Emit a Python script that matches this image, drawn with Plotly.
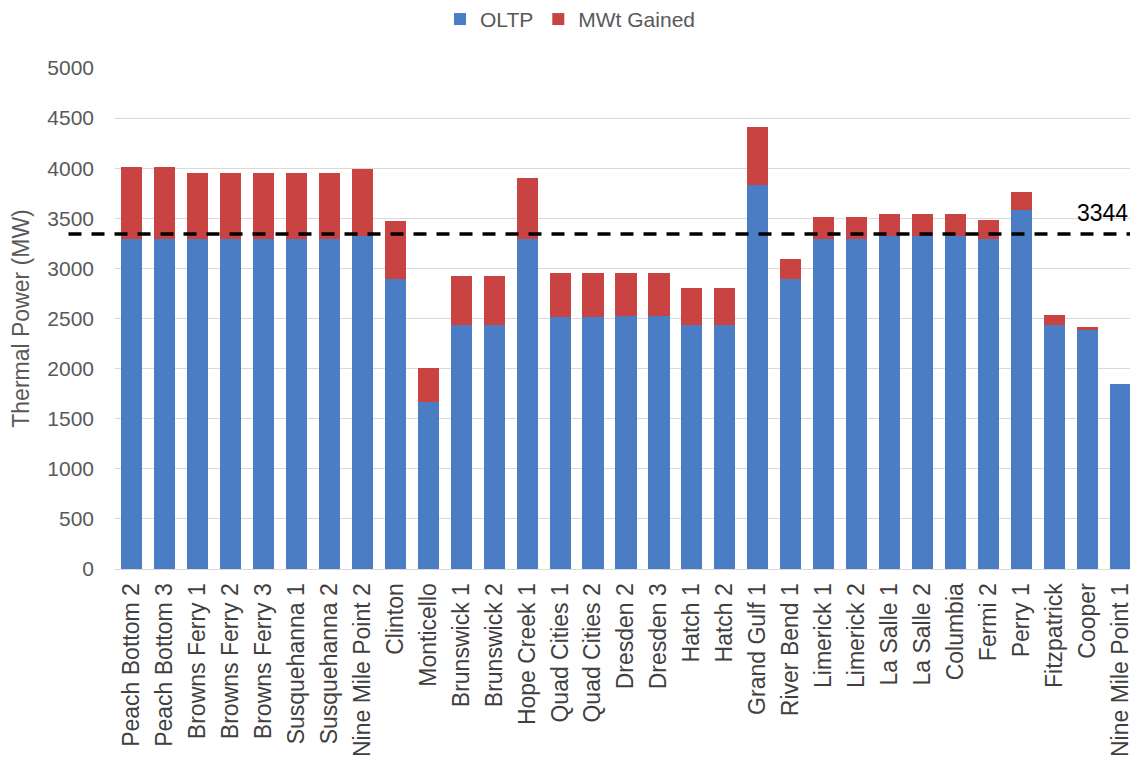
import plotly.graph_objects as go

plants = [
    "Peach Bottom 2", "Peach Bottom 3", "Browns Ferry 1", "Browns Ferry 2", "Browns Ferry 3",
    "Susquehanna 1", "Susquehanna 2", "Nine Mile Point 2", "Clinton", "Monticello",
    "Brunswick 1", "Brunswick 2", "Hope Creek 1", "Quad Cities 1", "Quad Cities 2",
    "Dresden 2", "Dresden 3", "Hatch 1", "Hatch 2", "Grand Gulf 1", "River Bend 1",
    "Limerick 1", "Limerick 2", "La Salle 1", "La Salle 2", "Columbia", "Fermi 2",
    "Perry 1", "Fitzpatrick", "Cooper", "Nine Mile Point 1",
]

oltp = [
    3293, 3293, 3293, 3293, 3293,
    3293, 3293, 3323, 2894, 1670,
    2436, 2436, 3293, 2511, 2511,
    2527, 2527, 2436, 2436, 3833, 2894,
    3293, 3293, 3323, 3323, 3323, 3292,
    3579, 2436, 2381, 1850,
]

mwt_gained = [
    723, 723, 659, 659, 659,
    659, 659, 665, 579, 334,
    487, 487, 609, 446, 446,
    430, 430, 368, 368, 575, 197,
    222, 222, 223, 223, 221, 194,
    179, 100, 38, 0,
]

reference_mw = 3344
y_ticks = [0, 500, 1000, 1500, 2000, 2500, 3000, 3500, 4000, 4500, 5000]

BLUE = "#4A7DC3"
RED = "#C94343"
FONT = "Liberation Sans, Arial, sans-serif"

fig = go.Figure()
fig.add_trace(go.Bar(x=plants, y=oltp, name="OLTP", marker=dict(color=BLUE, line=dict(width=0))))
fig.add_trace(go.Bar(x=plants, y=mwt_gained, name="MWt Gained", marker=dict(color=RED, line=dict(width=0))))

fig.add_shape(type="line", xref="paper", yref="y", x0=-0.0455, x1=0.9936,
              y0=reference_mw, y1=reference_mw,
              line=dict(color="black", width=3.5, dash="13px,10px"))
fig.add_annotation(xref="paper", yref="y", x=0.9936, y=reference_mw, xanchor="right", yanchor="bottom",
                   text=str(reference_mw), showarrow=False, yshift=6,
                   font=dict(size=23, color="black", family=FONT))

fig.update_layout(
    barmode="stack",
    bargap=0.36,
    width=1130, height=750,
    margin=dict(l=107, r=1, t=60, b=189, autoexpand=False),
    paper_bgcolor="white", plot_bgcolor="white",
    font=dict(family=FONT, size=21, color="#595959"),
    showlegend=True,
    legend=dict(orientation="h", traceorder="normal", x=0.318, xanchor="left", y=1.097, yanchor="middle",
                font=dict(size=21, color="#595959"), itemwidth=30, tracegroupgap=0),
)
fig.update_xaxes(automargin=False, tickangle=-90, tickfont=dict(size=23, color="#404040"), ticklabelstandoff=4,
                 showline=True, linecolor="#D9D9D9", linewidth=1, ticks="", showgrid=False)
fig.update_yaxes(automargin=False, range=[0, 5000], tickvals=y_ticks, ticktext=[str(v) for v in y_ticks],
                 showgrid=True, gridcolor="#D9D9D9", gridwidth=1, zeroline=False,
                 tickfont=dict(size=21, color="#595959"), ticklabelstandoff=20,
                 title=dict(text="Thermal Power (MW)", font=dict(size=23, color="#595959"), standoff=16))

fig.write_html("out.html")
